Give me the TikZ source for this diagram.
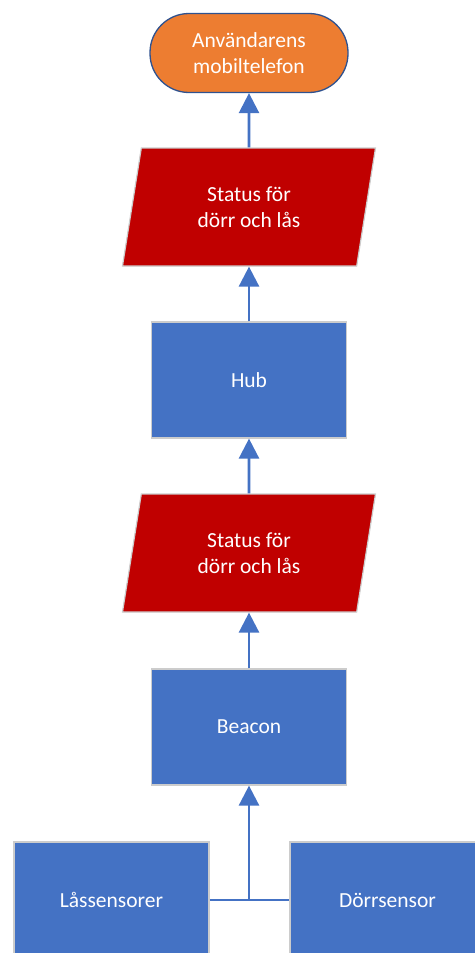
\documentclass[tikz,border=0pt]{standalone}
\usepackage{fontspec}
\setmainfont{Carlito}
\usetikzlibrary{arrows.meta,shapes.geometric}

\definecolor{blu}{HTML}{4472C4}
\definecolor{rosso}{HTML}{C00000}
\definecolor{arancio}{HTML}{ED7D31}
\definecolor{bordo}{HTML}{2F528F}

\newcommand{\testo}{\fontsize{21.5pt}{25.5pt}\selectfont}

\tikzset{
    blocco/.style={rectangle, fill=blu, draw=black!20, line width=1.2pt,
        minimum width=195pt, minimum height=116pt, inner sep=0pt,
        text=white, font=\testo},
    dati/.style={trapezium, trapezium left angle=65, trapezium right angle=115,
        trapezium stretches body, fill=rosso, draw=black!20, line width=1.2pt,
        minimum width=253pt, minimum height=118pt, inner sep=0pt,
        text=white, font=\testo, align=center},
    terminale/.style={rectangle, rounded corners=39pt, fill=arancio, draw=bordo,
        line width=1.3pt, minimum width=198pt, minimum height=79pt, inner sep=0pt,
        text=white, font=\testo, align=center},
    freccia/.style={draw=blu, line width=2.6pt, -{Triangle[width=20pt,length=20pt]}},
    linea/.style={draw=blu, line width=2.6pt}
}

\begin{document}
\begin{tikzpicture}[x=1pt, y=-1pt]

        % 1. Area del disegno
        \useasboundingbox (0,0) rectangle (474,953);

        % 2. Blocchi del flusso, dall'alto in basso
        \node[terminale] (telefon) at (249,53) {Användarens\\mobiltelefon};
        \node[dati] (status1) at (249,207) {Status för\\dörr och lås};
        \node[blocco] (hub) at (249,380) {Hub};
        \node[dati] (status2) at (249,553) {Status för\\dörr och lås};
        \node[blocco] (beacon) at (249,727) {Beacon};
        \node[blocco] (lassensor) at (111.5,900) {Låssensorer};
        \node[blocco] (dorrsensor) at (387.5,900) {Dörrsensor};

        % 3. Frecce verso l'alto
        \draw[freccia] (status1) -- (telefon);
        \draw[freccia] (hub) -- (status1);
        \draw[freccia] (status2) -- (hub);
        \draw[freccia] (beacon) -- (status2);

        % 4. Collegamento dei due sensori al beacon
        \coordinate (nodo) at (beacon.south |- lassensor.east);
        \draw[linea] (lassensor.east) -- (dorrsensor.west);
        \draw[freccia] (nodo) -- (beacon.south);

    \end{tikzpicture}
\end{document}
